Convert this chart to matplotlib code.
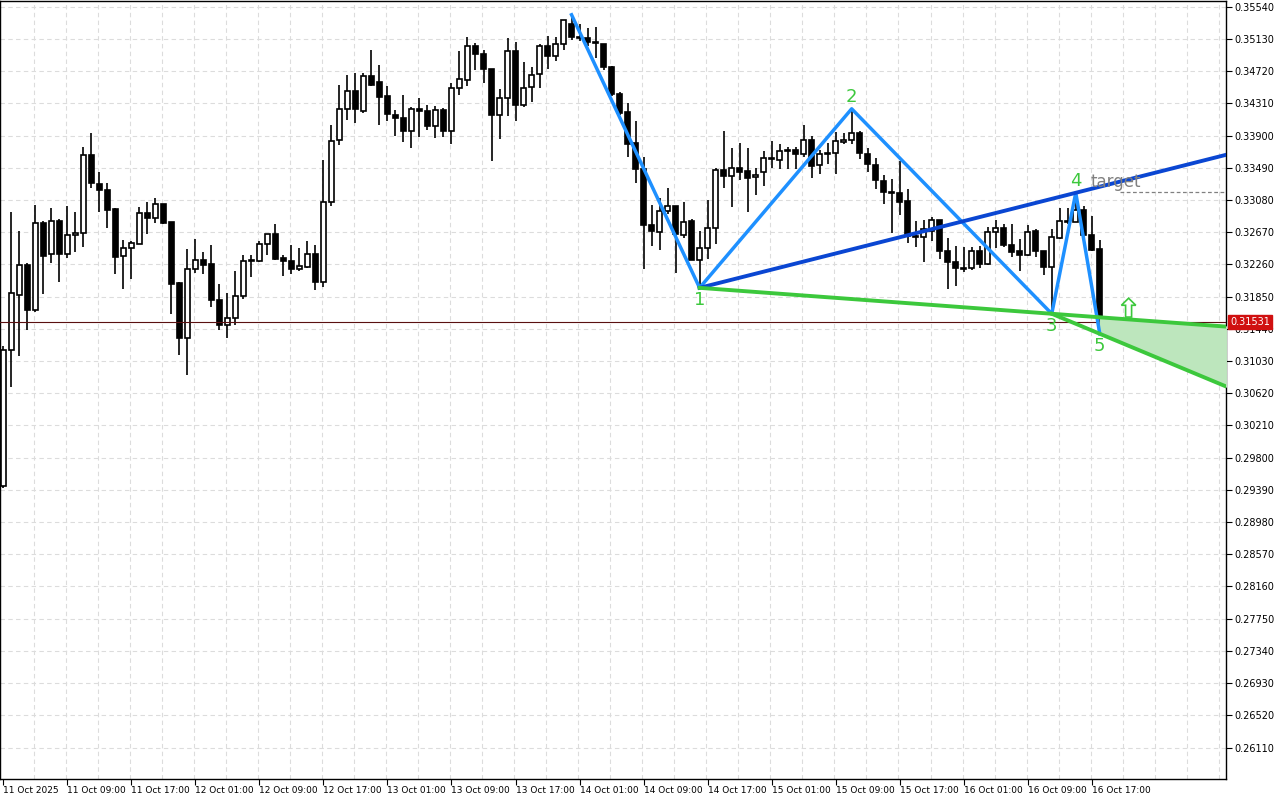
import matplotlib
matplotlib.use("Agg")
import matplotlib.pyplot as plt
import matplotlib.transforms as mtransforms
import numpy as np

opens = [0.29442,0.31173,0.31873,0.32255,0.31682,0.32790,0.32395,0.32815,0.32395,0.32637,
0.32663,0.33656,0.33286,0.33210,0.32968,0.32370,0.32472,0.32523,0.32917,0.32854,
0.33032,0.32803,0.32026,0.31326,0.32204,0.32319,0.32268,0.31810,0.31491,0.31581,
0.31861,0.32306,0.32306,0.32523,0.32650,0.32344,0.32306,0.32204,0.32230,0.32395,
0.32039,0.33057,0.33847,0.34241,0.34470,0.34216,0.34661,0.34585,0.34407,0.34165,
0.34127,0.33961,0.34241,0.34216,0.34025,0.34228,0.33961,0.34508,0.34610,0.35043,
0.34941,0.34750,0.34165,0.34381,0.34979,0.34292,0.34521,0.34687,0.35043,0.34916,
0.35069,0.35323,0.35158,0.35145,0.35094,0.35069,0.34776,0.34432,0.34203,0.33808,
0.33477,0.32764,0.32675,0.32943,0.33006,0.32637,0.32815,0.32319,0.32472,0.32726,
0.33465,0.33388,0.33490,0.33452,0.33376,0.33439,0.33605,0.33592,0.33719,0.33719,
0.33668,0.33847,0.33528,0.33668,0.33681,0.33821,0.33847,0.33936,0.33668,0.33528,
0.33325,0.33185,0.33172,0.33070,0.32624,0.32612,0.32688,0.32828,0.32433,0.32293,
0.32217,0.32217,0.32433,0.32268,0.32675,0.32726,0.32510,0.32433,0.32383,0.32688,
0.32433,0.32230,0.32599,0.32803,0.32803,0.32956,0.32637,0.32459]
highs = [0.31224,0.32930,0.32688,0.32281,0.33019,0.32815,0.32981,0.32841,0.33006,0.32930,
0.33757,0.33936,0.33439,0.33299,0.32981,0.32574,0.32561,0.32994,0.33057,0.33108,
0.33032,0.32803,0.32039,0.32459,0.32586,0.32421,0.32510,0.32013,0.31899,0.32179,
0.32383,0.32383,0.32561,0.32650,0.32777,0.32383,0.32510,0.32472,0.32561,0.32510,
0.33592,0.34037,0.34547,0.34674,0.34699,0.34699,0.34992,0.34801,0.34534,0.34228,
0.34419,0.34267,0.34381,0.34292,0.34279,0.34254,0.34572,0.34979,0.35158,0.35081,
0.34992,0.34750,0.34496,0.35145,0.35094,0.34839,0.34776,0.35069,0.35170,0.35158,
0.35374,0.35438,0.35323,0.35272,0.35285,0.35069,0.34789,0.34458,0.34318,0.34088,
0.33630,0.33019,0.33108,0.33236,0.33006,0.33057,0.32841,0.32688,0.33083,0.33485,
0.33961,0.33745,0.33808,0.33745,0.33490,0.33706,0.33834,0.33796,0.33757,0.33757,
0.34037,0.33897,0.33719,0.33808,0.33948,0.33936,0.34241,0.33961,0.33745,0.33617,
0.33401,0.33350,0.33579,0.33223,0.32815,0.32828,0.32866,0.32828,0.32599,0.32497,
0.32484,0.32484,0.32497,0.32739,0.32828,0.32777,0.32777,0.32586,0.32764,0.32714,
0.32433,0.32714,0.32981,0.32981,0.33172,0.33006,0.32879,0.32574]
lows = [0.29416,0.30702,0.31097,0.31428,0.31657,0.31886,0.32281,0.32039,0.32344,0.32421,
0.32484,0.33236,0.32930,0.32726,0.32141,0.31950,0.32077,0.32523,0.32650,0.32790,
0.32777,0.31632,0.31110,0.30855,0.32153,0.32141,0.31721,0.31428,0.31326,0.31491,
0.31822,0.32103,0.32293,0.32383,0.32319,0.32115,0.32141,0.32179,0.32217,0.31937,
0.31975,0.33006,0.33783,0.34101,0.34063,0.34190,0.34534,0.34037,0.34088,0.33897,
0.33821,0.33745,0.33885,0.33974,0.33872,0.33885,0.33796,0.34419,0.34534,0.34738,
0.34572,0.33579,0.33859,0.34152,0.34088,0.34267,0.34330,0.34508,0.34750,0.34852,
0.34992,0.35120,0.35107,0.35043,0.34890,0.34738,0.34407,0.34165,0.33630,0.33299,
0.32204,0.32497,0.32446,0.32905,0.32153,0.32599,0.32319,0.31962,0.32332,0.32523,
0.33236,0.32994,0.33337,0.32930,0.33146,0.33261,0.33485,0.33477,0.33477,0.33477,
0.33630,0.33363,0.33414,0.33541,0.33414,0.33796,0.33796,0.33605,0.33439,0.33223,
0.33032,0.32663,0.32892,0.32535,0.32484,0.32293,0.32561,0.32332,0.31950,0.31988,
0.32166,0.32192,0.32217,0.32255,0.32472,0.32484,0.32357,0.32179,0.32370,0.32357,
0.32128,0.31632,0.32586,0.32777,0.32803,0.32624,0.32433,0.31377]
closes = [0.31173,0.31899,0.32255,0.31682,0.32790,0.32370,0.32815,0.32395,0.32637,0.32663,
0.33656,0.33299,0.33210,0.32956,0.32357,0.32472,0.32535,0.32917,0.32854,0.33032,
0.32790,0.32013,0.31326,0.32204,0.32319,0.32255,0.31810,0.31491,0.31581,0.31861,
0.32306,0.32319,0.32523,0.32650,0.32332,0.32306,0.32204,0.32243,0.32395,0.32039,
0.33057,0.33834,0.34241,0.34470,0.34241,0.34661,0.34547,0.34394,0.34178,0.34127,
0.33961,0.34241,0.34216,0.34025,0.34228,0.33961,0.34508,0.34623,0.35043,0.34941,
0.34750,0.34165,0.34381,0.34979,0.34292,0.34508,0.34674,0.35043,0.34916,0.35069,
0.35374,0.35158,0.35145,0.35094,0.35081,0.34776,0.34432,0.34190,0.33796,0.33477,
0.32764,0.32688,0.32943,0.33006,0.32650,0.32803,0.32319,0.32472,0.32726,0.33465,
0.33388,0.33490,0.33439,0.33363,0.33401,0.33617,0.33617,0.33706,0.33706,0.33668,
0.33847,0.33516,0.33668,0.33681,0.33834,0.33847,0.33936,0.33681,0.33541,0.33337,
0.33185,0.33172,0.33057,0.32624,0.32612,0.32714,0.32828,0.32433,0.32293,0.32217,
0.32204,0.32433,0.32268,0.32675,0.32726,0.32510,0.32421,0.32383,0.32675,0.32433,
0.32230,0.32612,0.32815,0.32815,0.32956,0.32637,0.32446,0.31531]

x_labels = ["11 Oct 2025","11 Oct 09:00","11 Oct 17:00","12 Oct 01:00","12 Oct 09:00",
"12 Oct 17:00","13 Oct 01:00","13 Oct 09:00","13 Oct 17:00","14 Oct 01:00",
"14 Oct 09:00","14 Oct 17:00","15 Oct 01:00","15 Oct 09:00","15 Oct 17:00",
"16 Oct 01:00","16 Oct 09:00","16 Oct 17:00"]
y_ticks = [0.35540,0.35130,0.34720,0.34310,0.33900,0.33490,0.33080,0.32670,0.32260,
0.31850,0.31440,0.31030,0.30620,0.30210,0.29800,0.29390,0.28980,0.28570,0.28160,
0.27750,0.27340,0.26930,0.26520,0.26110]

# wave points (bar index, price)
wave_idx = [71, 87, 106, 131, 134, 137]
wave_px = [0.35438, 0.31962, 0.34241, 0.31632, 0.33172, 0.31377]
wave_labels = ["", "1", "2", "3", "4", "5"]
current_price = 0.31531
target_price = 0.33185
arrow_idx, arrow_price = 140.6, 0.31590

fig = plt.figure(figsize=(12.8, 8.0), dpi=100)
ax = fig.add_axes([0.0, 0.0265, 0.958, 0.9725])
n = len(opens)
xs = np.arange(n)
xmin, xmax = -0.41, 152.8
ax.set_xlim(xmin, xmax)
ax.set_ylim(0.25712, 0.35616)

for y in y_ticks:
    ax.axhline(y, color="#dcdcdc", lw=0.8, ls=(0, (4, 3)), zorder=0)
for gx in np.arange(3.85, xmax, 4):
    ax.axvline(gx, color="#dcdcdc", lw=0.8, ls=(0, (4, 3)), zorder=0)

o = np.array(opens); c = np.array(closes)
ax.vlines(xs, lows, highs, color="black", lw=1.2, zorder=2)
bot = np.minimum(o, c); h = np.maximum(np.abs(c - o), 0.00003)
cols = ["white" if cc >= oo else "black" for oo, cc in zip(o, c)]
ax.bar(xs, h, bottom=bot, width=0.62, color=cols, edgecolor="black", lw=1.2, zorder=3)

ax.axhline(current_price, color="#5a1010", lw=0.8, zorder=4)

ax.plot(wave_idx, wave_px, color="#1E90FF", lw=2.5, zorder=5)
def line(i1, p1, i2, p2, xe):
    return p1 + (p2 - p1) * (xe - i1) / (i2 - i1)
ax.plot([wave_idx[1], xmax], [wave_px[1], line(wave_idx[1], wave_px[1], wave_idx[4], wave_px[4], xmax)],
        color="#0A46D2", lw=2.8, zorder=5)
gA = [wave_px[1], line(wave_idx[1], wave_px[1], wave_idx[3], wave_px[3], xmax)]
ax.plot([wave_idx[1], xmax], gA, color="#3CC83C", lw=2.8, zorder=5)
gB = [wave_px[3], line(wave_idx[3], wave_px[3], wave_idx[5], wave_px[5], xmax)]
ax.plot([wave_idx[3], xmax], gB, color="#3CC83C", lw=2.8, zorder=5)
fx = np.linspace(wave_idx[5], xmax, 50)
fa = line(wave_idx[1], wave_px[1], wave_idx[3], wave_px[3], fx)
fb = line(wave_idx[3], wave_px[3], wave_idx[5], wave_px[5], fx)
ax.fill_between(fx, fa, fb, color="#bde6bd", zorder=4)

offs = {"1": -0.0016, "2": 0.0015, "3": -0.0015, "4": 0.0015, "5": -0.0015}
for i, p, t in zip(wave_idx, wave_px, wave_labels):
    if t:
        ax.text(i, p + offs[t], t, color="#3CC83C", fontsize=13, ha="center", va="center", zorder=6)

ax.plot([139.5, xmax], [target_price] * 2, color="#808080", lw=0.9, ls=(0, (3, 2)), zorder=5)
ax.text(135.8, target_price + 0.00012, "target", color="#808080", fontsize=12, va="bottom", zorder=6)
ax.arrow(arrow_idx, arrow_price, 0, 0.0024, width=0.75, head_width=1.8, head_length=0.0009,
         length_includes_head=True, facecolor="white", edgecolor="#3CC83C", lw=1.2, zorder=6)

ax.yaxis.tick_right()
ax.set_yticks(y_ticks)
ax.set_yticklabels([f"{v:.5f}" for v in y_ticks], fontsize=7)
ax.set_xticks(np.arange(0, 137, 8))
ax.set_xticklabels(x_labels, fontsize=6.5, ha="left")
ax.tick_params(axis="both", length=4, width=0.8, pad=1.5)
for s in ax.spines.values():
    s.set_color("black"); s.set_linewidth(1)

trans = mtransforms.blended_transform_factory(ax.transAxes, ax.transData)
ax.text(1.003, current_price, f"{current_price:.5f}", transform=trans, fontsize=7, color="white",
        va="center", ha="left", clip_on=False, zorder=10,
        bbox=dict(boxstyle="square,pad=0.2", facecolor="#d01010", edgecolor="#d01010"))

fig.savefig("out.png", dpi=100)
